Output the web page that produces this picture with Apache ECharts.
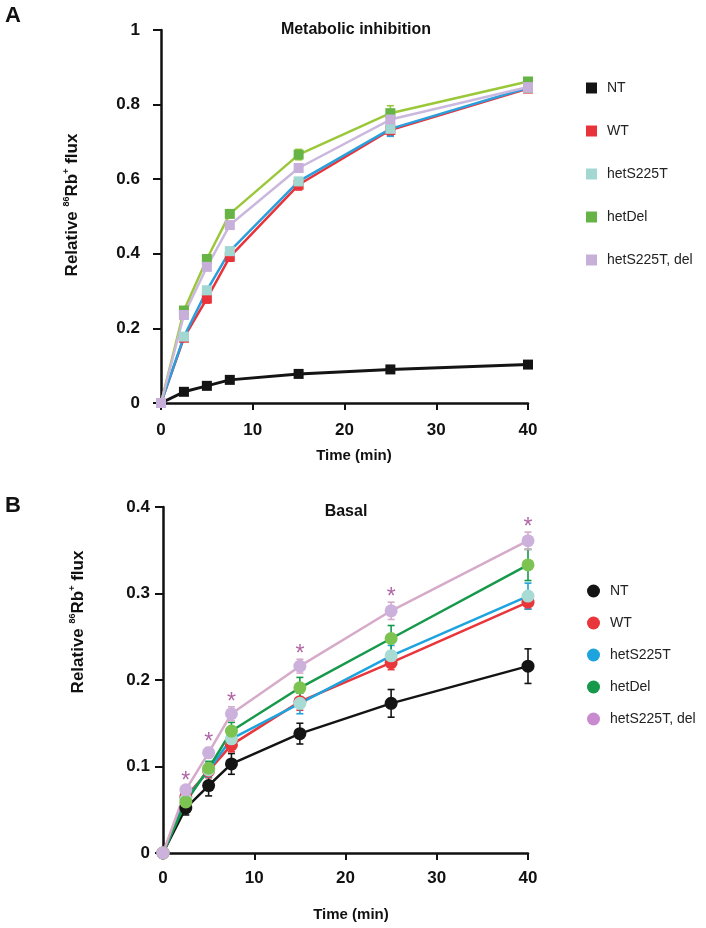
<!DOCTYPE html>
<html>
<head>
<meta charset="utf-8">
<script src="https://cdn.jsdelivr.net/npm/echarts@6/dist/echarts.min.js"></script>
<style>
html, body { margin: 0; padding: 0; background: #fff; }
#chart { width: 706px; height: 928px; }
</style>
</head>
<body>
<div id="chart"></div>
<script>
var times = [0, 2.5, 5, 7.5, 15, 25, 40];
var groups = ['NT', 'WT', 'hetS225T', 'hetDel', 'hetS225T, del'];

// A: metabolic inhibition
var metNT     = [0, 0.030, 0.046, 0.062, 0.078, 0.090, 0.103];
var metWT     = [0, 0.175, 0.280, 0.392, 0.585, 0.732, 0.843];
var metS225T  = [0, 0.178, 0.302, 0.407, 0.594, 0.735, 0.845];
var metDel    = [0, 0.248, 0.386, 0.507, 0.666, 0.777, 0.862];
var metBoth   = [0, 0.236, 0.365, 0.477, 0.630, 0.760, 0.847];
var metNTErr    = [0, 0.004, 0.004, 0.005, 0.005, 0.006, 0.006];
var metWTErr    = [0, 0.008, 0.012, 0.012, 0.014, 0.015, 0.010];
var metS225TErr = [0, 0.008, 0.010, 0.010, 0.010, 0.020, 0.010];
var metDelErr   = [0, 0.008, 0.008, 0.010, 0.014, 0.020, 0.008];
var metBothErr  = [0, 0.008, 0.008, 0.008, 0.008, 0.015, 0.008];

// B: basal
var basNT     = [0, 0.052, 0.078, 0.103, 0.138, 0.173, 0.216];
var basWT     = [0, 0.065, 0.095, 0.125, 0.175, 0.220, 0.290];
var basS225T  = [0, 0.062, 0.096, 0.132, 0.173, 0.228, 0.297];
var basDel    = [0, 0.059, 0.098, 0.141, 0.191, 0.248, 0.333];
var basBoth   = [0, 0.073, 0.116, 0.161, 0.216, 0.280, 0.361];
var basNTErr    = [0, 0.008, 0.012, 0.012, 0.012, 0.016, 0.020];
var basWTErr    = [0, 0.006, 0.008, 0.008, 0.010, 0.008, 0.008];
var basS225TErr = [0, 0.006, 0.008, 0.010, 0.012, 0.012, 0.015];
var basDelErr   = [0, 0.006, 0.008, 0.010, 0.012, 0.015, 0.018];
var basBothErr  = [0, 0.004, 0.006, 0.008, 0.008, 0.010, 0.010];

var FONT = '"Liberation Sans", Arial, Helvetica, sans-serif';

function errBar(color, capW) {
    return function (params, api) {
        var x = api.value(0), y = api.value(1), e = api.value(2);
        var hi = api.coord([x, y + e]);
        var lo = api.coord([x, y - e]);
        var st = { stroke: color, lineWidth: 1.6 };
        return {
            type: 'group',
            children: [
                { type: 'line', shape: { x1: hi[0], y1: hi[1], x2: lo[0], y2: lo[1] }, style: st },
                { type: 'line', shape: { x1: hi[0] - capW, y1: hi[1], x2: hi[0] + capW, y2: hi[1] }, style: st },
                { type: 'line', shape: { x1: lo[0] - capW, y1: lo[1], x2: lo[0] + capW, y2: lo[1] }, style: st }
            ]
        };
    };
}

var series = [];
function addGroup(idx, name, vals, errs, lineColor, markColor, symbol, size, lw) {
    series.push({
        name: name,
        type: 'custom',
        xAxisIndex: idx, yAxisIndex: idx,
        renderItem: errBar(lineColor, 3.5),
        data: times.map(function (t, i) { return [t, vals[i], errs[i]]; }).filter(function (d) { return d[2] > 0; }),
        z: 3,
        silent: true
    });
    series.push({
        name: name,
        type: 'line',
        xAxisIndex: idx, yAxisIndex: idx,
        data: times.map(function (t, i) { return [t, vals[i]]; }),
        symbol: symbol,
        symbolSize: size,
        showAllSymbol: true,
        lineStyle: { color: lineColor, width: lw },
        itemStyle: { color: markColor, borderWidth: 0 },
        z: 4
    });
}

addGroup(0, 'NT', metNT, metNTErr, '#141414', '#141414', 'rect', 10, 3);
addGroup(0, 'WT', metWT, metWTErr, '#e8333a', '#e8333a', 'rect', 10, 2.5);
addGroup(0, 'hetS225T', metS225T, metS225TErr, '#2a9fdc', '#a3d8d2', 'rect', 10, 2.5);
addGroup(0, 'hetDel', metDel, metDelErr, '#9bc83a', '#66b445', 'rect', 10, 2.5);
addGroup(0, 'hetS225T, del', metBoth, metBothErr, '#cbb8de', '#c6afd9', 'rect', 10, 2.5);

addGroup(1, 'NT', basNT, basNTErr, '#141414', '#141414', 'circle', 13, 2.5);
addGroup(1, 'WT', basWT, basWTErr, '#e8363a', '#e8363a', 'circle', 13, 2.5);
addGroup(1, 'hetS225T', basS225T, basS225TErr, '#1da3de', '#a8dbd3', 'circle', 13, 2.5);
addGroup(1, 'hetDel', basDel, basDelErr, '#16994a', '#7cc352', 'circle', 13, 2.5);
addGroup(1, 'hetS225T, del', basBoth, basBothErr, '#d6aac9', '#cdb1dd', 'circle', 13, 2.5);

// significance marks over hetS225T, del (basal)
series.push({
    type: 'scatter',
    xAxisIndex: 1, yAxisIndex: 1,
    data: times.slice(1).map(function (t, i) { return [t, basBoth[i + 1] + basBothErr[i + 1]]; }),
    symbol: 'circle',
    symbolSize: 2,
    itemStyle: { color: 'rgba(0,0,0,0)' },
    label: {
        show: true, formatter: '*', position: 'top', distance: -8,
        fontSize: 23, color: '#9b3f8f', fontFamily: FONT
    },
    z: 6,
    silent: true
});

function xAxisCfg(idx, margin) {
    return {
        type: 'value', gridIndex: idx, min: 0, max: 40, interval: 10,
        axisLine: { show: true, lineStyle: { color: '#111', width: 2.5 } },
        axisTick: { show: true, length: 7, lineStyle: { color: '#111', width: 2 } },
        axisLabel: { margin: margin, fontSize: 17, fontWeight: 'bold', color: '#111', fontFamily: FONT },
        splitLine: { show: false }
    };
}
function yAxisCfg(idx, max, interval, margin) {
    return {
        type: 'value', gridIndex: idx, min: 0, max: max, interval: interval,
        axisLine: { show: true, lineStyle: { color: '#111', width: 2.5 } },
        axisTick: { show: true, length: 8, lineStyle: { color: '#111', width: 2 } },
        axisLabel: { margin: margin, fontSize: 17, fontWeight: 'bold', color: '#111', fontFamily: FONT },
        splitLine: { show: false }
    };
}

function legendData(colors, icon) {
    return groups.map(function (g, i) { return { name: g, icon: icon, itemStyle: { color: colors[i] } }; });
}

var yName = '{n|Relative }{s|86}{n|Rb}{s|+}{n| flux}';
var yRich = {
    n: { fontSize: 17, fontWeight: 'bold', fontFamily: FONT, fill: '#111', lineHeight: 20 },
    s: { fontSize: 9, fontWeight: 'bold', fontFamily: FONT, fill: '#111', verticalAlign: 'top', lineHeight: 20 }
};

var chart = echarts.init(document.getElementById('chart'));
chart.setOption({
    animation: false,
    backgroundColor: '#fff',
    grid: [
        { left: 161, top: 30, width: 367, height: 373 },
        { left: 163, top: 507, width: 365, height: 346 }
    ],
    xAxis: [xAxisCfg(0, 19), xAxisCfg(1, 17)],
    yAxis: [yAxisCfg(0, 1, 0.2, 21), yAxisCfg(1, 0.4, 0.1, 13)],
    legend: [
        {
            orient: 'vertical', left: 581, top: 76, itemWidth: 11, itemHeight: 11, itemGap: 29,
            selectedMode: false,
            textStyle: { fontSize: 14, color: '#222', fontFamily: FONT, padding: [0, 0, 0, 5] },
            data: legendData(['#141414', '#e8333a', '#a3d8d2', '#66b445', '#c6afd9'], 'rect')
        },
        {
            orient: 'vertical', left: 582, top: 579, itemWidth: 13, itemHeight: 13, itemGap: 18,
            selectedMode: false,
            textStyle: { fontSize: 14, color: '#222', fontFamily: FONT, padding: [0, 0, 0, 5] },
            data: legendData(['#141414', '#e8363a', '#1da3de', '#16994a', '#c98bd0'], 'circle')
        }
    ],
    graphic: [
        { type: 'text', x: 13, y: 16, style: { text: 'A', font: 'bold 22px ' + FONT, fill: '#111', align: 'center', verticalAlign: 'middle' } },
        { type: 'text', x: 13, y: 506, style: { text: 'B', font: 'bold 22px ' + FONT, fill: '#111', align: 'center', verticalAlign: 'middle' } },
        { type: 'text', x: 356, y: 30, style: { text: 'Metabolic inhibition', font: 'bold 16px ' + FONT, fill: '#111', align: 'center', verticalAlign: 'middle' } },
        { type: 'text', x: 346, y: 512, style: { text: 'Basal', font: 'bold 16px ' + FONT, fill: '#111', align: 'center', verticalAlign: 'middle' } },
        { type: 'text', x: 354, y: 456, style: { text: 'Time (min)', font: 'bold 15px ' + FONT, fill: '#111', align: 'center', verticalAlign: 'middle' } },
        { type: 'text', x: 351, y: 915, style: { text: 'Time (min)', font: 'bold 15px ' + FONT, fill: '#111', align: 'center', verticalAlign: 'middle' } },
        { type: 'text', x: 72, y: 205, rotation: Math.PI / 2, style: { text: yName, rich: yRich, align: 'center', verticalAlign: 'middle' } },
        { type: 'text', x: 78, y: 622, rotation: Math.PI / 2, style: { text: yName, rich: yRich, align: 'center', verticalAlign: 'middle' } }
    ],
    series: series
});
</script>
</body>
</html>
